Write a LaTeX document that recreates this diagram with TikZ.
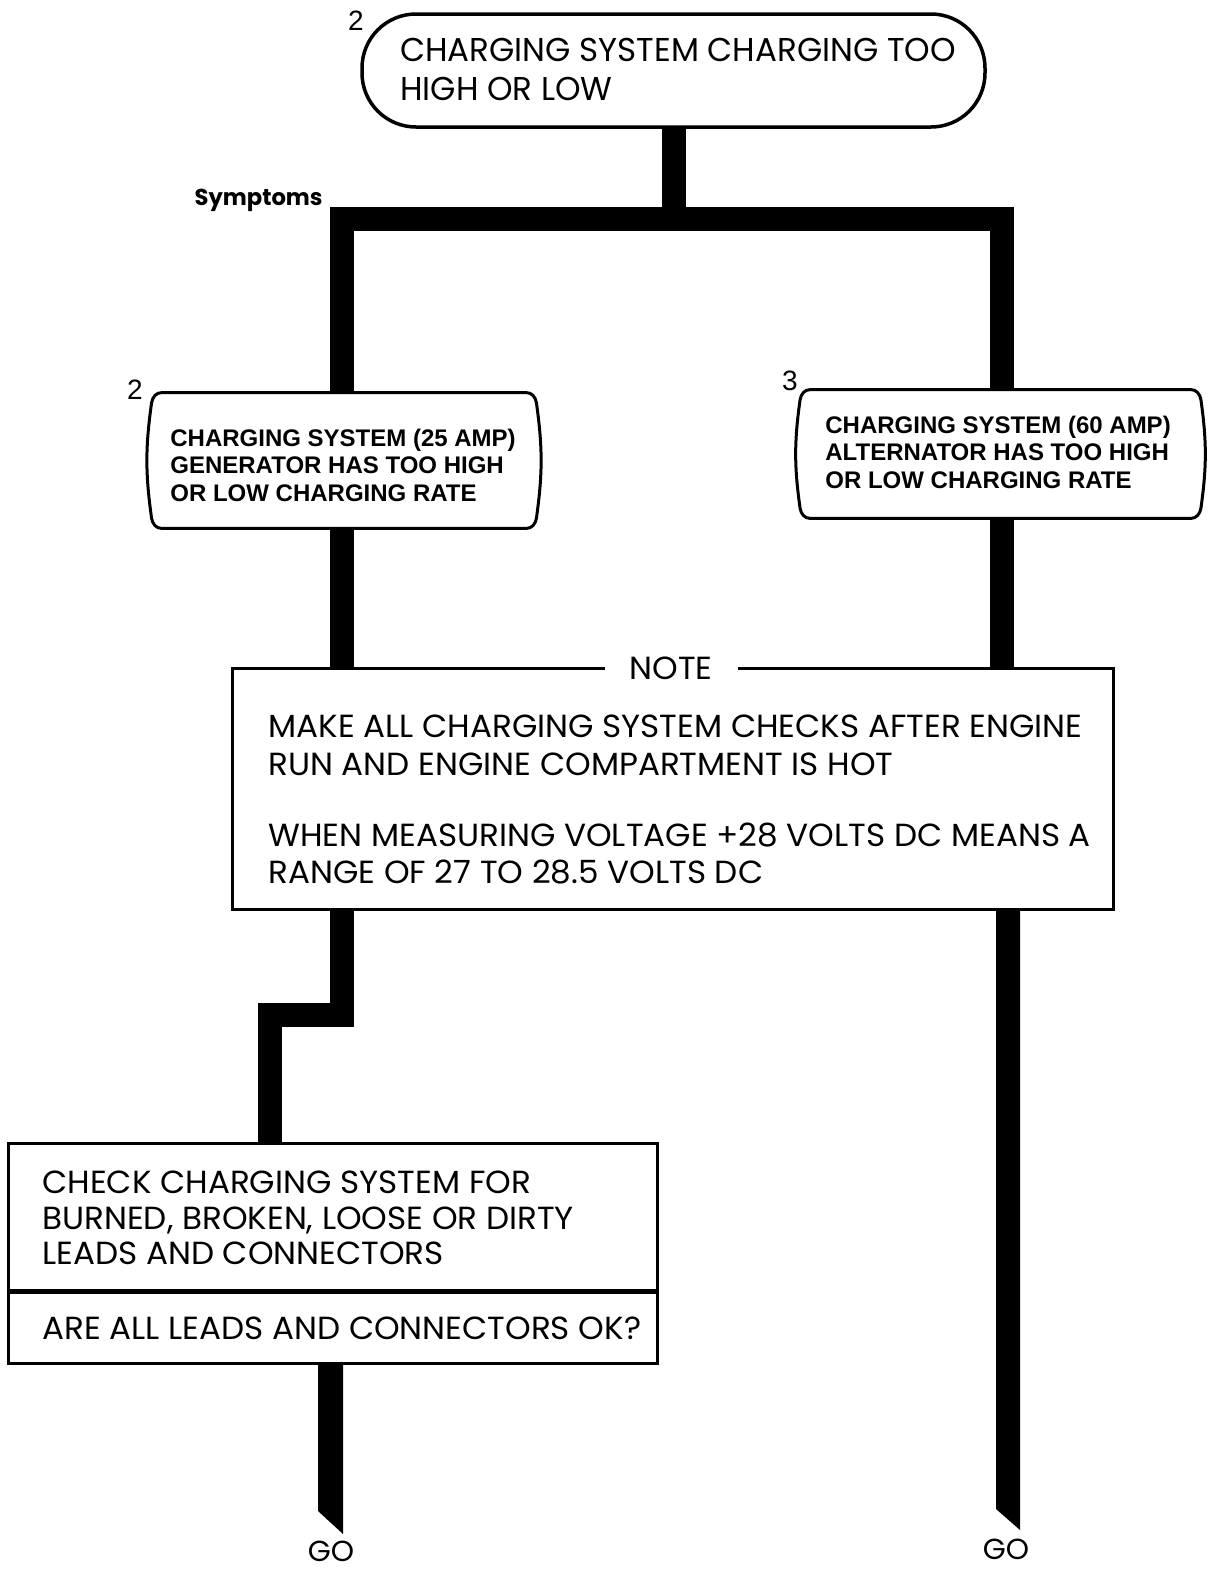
\documentclass[tikz,border=0pt]{standalone}
\usepackage{fontspec}
\setmainfont{Poppins}
\newfontfamily\futA{Poppins}[FakeStretch=0.985]
\newfontfamily\futB{Poppins}[FakeStretch=1.02]
\newfontfamily\helv{Liberation Sans}
\usetikzlibrary{calc}
\tikzset{
  conn/.style={line width=12pt, line join=miter, line cap=butt},
  frame/.style={draw, line width=1.5pt, fill=white, inner sep=0pt},
  barrelnode/.style={inner sep=0pt},
  futtext/.style={font=\futA\fontsize{16.5}{19.5}\selectfont, align=left, inner sep=0pt, anchor=west},
  notetext/.style={font=\futB\fontsize{16}{18.75}\selectfont, align=left, inner sep=0pt, anchor=west},
  chktext/.style={font=\futB\fontsize{16}{17.75}\selectfont, align=left, inner sep=0pt, anchor=west},
  boxtext/.style={font=\helv\bfseries\fontsize{12}{13.75}\selectfont, align=left, inner sep=0pt, anchor=west},
  numlabel/.style={font=\helv\fontsize{14}{14}\selectfont, inner sep=0pt},
  golabel/.style={font=\futB\fontsize{14.5}{14.5}\selectfont, inner sep=0pt},
  bxline/.style={line width=1.5pt},
}
\newcommand\barrelbox[1]{%
  \fill[white] (#1.north west) rectangle (#1.south east);
  \draw[bxline] ($(#1.north west)+(14,0)$) -- ($(#1.north east)+(-14,0)$)
    to[out=0,in=100] ($(#1.north east)+(-4,10)$)
    to[out=-82,in=82] ($(#1.south east)+(-4,-10)$)
    to[out=-100,in=0] ($(#1.south east)+(-14,0)$)
    -- ($(#1.south west)+(14,0)$)
    to[out=180,in=-80] ($(#1.south west)+(4,-10)$)
    to[out=98,in=-98] ($(#1.north west)+(4,10)$)
    to[out=80,in=180] cycle;}
\begin{document}
\begin{tikzpicture}[x=0.5pt,y=-0.5pt]
\useasboundingbox[fill=white] (0,0) rectangle (1207,1570);

% shapes
\node[draw, line width=1.75pt, rounded corners=27pt, minimum width=311.5pt, minimum height=56.5pt, inner sep=0pt] (top) at (673.5,70.5) {};
\node[barrelnode, minimum width=196pt, minimum height=67.5pt] (lbox) at (344,460.5) {};
\node[barrelnode, minimum width=204pt, minimum height=64pt] (rbox) at (1000.5,454) {};
\node[frame, minimum width=440.5pt, minimum height=120.5pt] (note) at (672.5,788.5) {};
\node[frame, minimum width=324.5pt, minimum height=110pt] (chk) at (332.5,1253) {};
\coordinate (divl) at (8,1291);
\coordinate (divr) at (657,1291);

% coordinates for connectors
\coordinate (jl) at (341.5,218.5);
\coordinate (jr) at (1002,218.5);
\coordinate (sl) at (341.5,1015);
\coordinate (sl2) at (269.5,1015);
\coordinate (goL) at (330.5,1522.5);
\coordinate (goR) at (1008,1519.5);

% connectors
\draw[conn] (top.south) -- (top.south |- jl);
\draw[conn] (lbox.north -| jl) -- (jl) -- (jr) -- (rbox.north -| jr);
\draw[conn] (lbox.south -| jl) -- (note.north -| jl);
\draw[conn] (rbox.south -| jr) -- (note.north -| jr);
\draw[conn] (note.south -| jl) -- (sl) -- (sl2) -- (chk.north -| sl2);
\fill ($(chk.south -| goL)+(-12.5,0)$) -- ($(goL)+(-12.5,-11.5)$) -- ($(goL)+(12.5,11.5)$) -- ($(chk.south -| goL)+(12.5,0)$) -- cycle;
\fill ($(note.south -| goR)+(-12,0)$) -- ($(goR)+(-12,-10.5)$) -- ($(goR)+(12,10.5)$) -- ($(note.south -| goR)+(12,0)$) -- cycle;

% barrel outlines
\barrelbox{lbox}
\barrelbox{rbox}
\draw[line width=2.5pt] (divl) -- (divr);

% texts
\node[futtext] (toptxt) at (400,69) {CHARGING SYSTEM CHARGING TOO\\HIGH OR LOW};
\node[boxtext] (ltxt) at (170,465) {CHARGING SYSTEM (25 AMP)\\GENERATOR HAS TOO HIGH\\OR LOW CHARGING RATE};
\node[boxtext] (rtxt) at (825,452) {CHARGING SYSTEM (60 AMP)\\ALTERNATOR HAS TOO HIGH\\OR LOW CHARGING RATE};
\node[notetext] (notetxt) at (268,800) {MAKE ALL CHARGING SYSTEM CHECKS AFTER ENGINE\\RUN AND ENGINE COMPARTMENT IS HOT\\[16.75pt]WHEN MEASURING VOLTAGE +28 VOLTS DC MEANS A\\RANGE OF 27 TO 28.5 VOLTS DC};
\node[fill=white, inner xsep=12.5pt, inner ysep=2pt, font=\futB\fontsize{16}{16}\selectfont] (notelbl) at (671,668) {NOTE};
\node[chktext] (chktxt) at (42,1218) {CHECK CHARGING SYSTEM FOR\\BURNED, BROKEN, LOOSE OR DIRTY\\LEADS AND CONNECTORS};
\node[chktext] (asktxt) at (42,1328) {ARE ALL LEADS AND CONNECTORS OK?};
\node[font=\futA\bfseries\fontsize{11.5}{11.5}\selectfont, inner sep=0pt, anchor=east] (symp) at (323,200) {Symptoms};
\node[golabel] (go1) at (331,1551) {GO};
\node[golabel] (go2) at (1006,1549) {GO};
\node[numlabel] (n1) at (356,21) {2};
\node[numlabel] (n2) at (135,390) {2};
\node[numlabel] (n3) at (790,381) {3};
\end{tikzpicture}
\end{document}
